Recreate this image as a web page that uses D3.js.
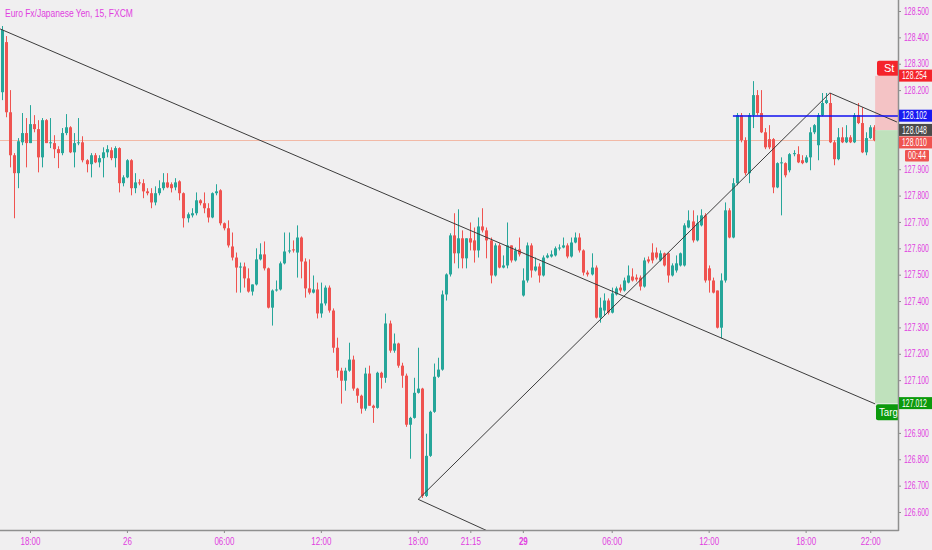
<!DOCTYPE html>
<html lang="en">
<head>
<meta charset="UTF-8" />
<title>Euro Fx/Japanese Yen, 15, FXCM</title>
<script src="https://d3js.org/d3.v7.min.js"></script>
<style>
  body { margin: 0; background: #f0eff0; }
  svg { display: block; font-family: "Liberation Sans", Arial, sans-serif; }
</style>
</head>
<body>
<svg id="chart" width="932" height="550"></svg>
<script>
// 15 minute candles, index 0 = first visible bar
const opens = [
  128.192,128.382,128.116,127.953,127.885,128.002,128.037,127.999,128.071,128.052,
  127.945,128.086,127.999,127.999,127.976,127.961,128.037,128.059,127.964,127.999,
  128.002,127.934,127.919,127.953,127.926,127.942,127.964,127.972,127.942,127.980,
  127.847,127.869,127.934,127.828,127.850,127.847,127.816,127.809,127.774,127.809,
  127.828,127.850,127.843,127.831,127.854,127.809,127.714,127.725,127.733,127.782,
  127.771,127.752,127.717,127.809,127.820,127.695,127.676,127.607,127.565,127.527,
  127.531,127.486,127.436,127.463,127.558,127.577,127.524,127.375,127.440,127.444,
  127.543,127.588,127.596,127.584,127.641,127.550,127.448,127.432,127.444,127.353,
  127.391,127.451,127.364,127.223,127.136,127.098,127.136,127.178,127.068,127.041,
  126.992,127.125,127.003,126.995,127.128,127.109,127.315,127.212,127.239,127.155,
  127.117,126.931,126.957,127.052,127.068,126.661,126.813,126.980,127.113,127.140,
  127.425,127.501,127.649,127.581,127.638,127.562,127.638,127.630,127.592,127.683,
  127.668,127.630,127.497,127.611,127.527,127.535,127.611,127.554,127.596,127.421,
  127.478,127.611,127.516,127.531,127.497,127.565,127.569,127.573,127.600,127.603,
  127.611,127.569,127.622,127.641,127.592,127.508,127.501,127.527,127.337,127.364,
  127.402,127.356,127.425,127.451,127.440,127.470,127.493,127.489,127.489,127.455,
  127.558,127.584,127.584,127.554,127.581,127.581,127.497,127.516,127.535,127.535,
  127.679,127.702,127.630,127.687,127.725,127.524,127.478,127.440,127.299,127.478,
  127.744,127.641,127.847,128.105,128.010,127.885,128.105,128.181,128.113,128.040,
  128.014,128.014,127.831,127.923,127.923,127.896,127.957,127.957,127.934,127.926,
  127.945,128.040,127.991,128.105,128.151,128.151,128.002,127.938,128.021,128.002,
  128.021,128.002,128.105,128.075,127.964,128.018,128.059
];
const highs = [
  128.443,128.405,128.200,127.961,128.018,128.113,128.094,128.143,128.105,128.086,
  128.094,128.090,128.094,128.029,127.987,128.056,128.109,128.063,128.037,128.094,
  128.025,127.938,127.961,127.961,127.953,127.983,127.991,127.983,127.987,127.983,
  127.877,127.938,127.938,127.885,127.862,127.862,127.828,127.828,127.835,127.858,
  127.885,127.885,127.850,127.866,127.858,127.812,127.736,127.752,127.812,127.786,
  127.812,127.771,127.812,127.843,127.824,127.698,127.706,127.660,127.584,127.546,
  127.546,127.524,127.463,127.600,127.619,127.626,127.527,127.444,127.478,127.550,
  127.660,127.660,127.630,127.687,127.645,127.562,127.558,127.497,127.470,127.470,
  127.459,127.459,127.372,127.261,127.147,127.147,127.242,127.193,127.071,127.045,
  127.147,127.155,127.007,127.132,127.132,127.353,127.326,127.277,127.242,127.166,
  127.125,126.961,127.109,127.223,127.071,126.897,126.984,127.163,127.185,127.440,
  127.505,127.657,127.733,127.748,127.668,127.638,127.698,127.679,127.717,127.752,
  127.679,127.641,127.619,127.619,127.573,127.698,127.611,127.603,127.641,127.524,
  127.622,127.619,127.565,127.543,127.573,127.581,127.592,127.607,127.615,127.641,
  127.619,127.641,127.660,127.657,127.596,127.516,127.581,127.535,127.413,127.429,
  127.410,127.451,127.455,127.463,127.489,127.535,127.524,127.501,127.497,127.565,
  127.569,127.619,127.603,127.592,127.584,127.584,127.543,127.573,127.584,127.695,
  127.744,127.744,127.725,127.748,127.733,127.535,127.489,127.440,127.505,127.774,
  127.752,127.866,128.113,128.113,128.021,128.113,128.234,128.200,128.200,128.056,
  128.067,128.018,127.926,127.945,127.926,127.961,127.972,127.987,127.953,127.953,
  128.059,128.071,128.113,128.189,128.189,128.189,128.010,128.056,128.059,128.067,
  128.029,128.113,128.151,128.135,128.040,128.067,128.067
];
const lows = [
  128.162,128.097,127.907,127.714,127.828,127.991,127.907,127.999,128.040,127.888,
  127.907,127.999,127.980,127.942,127.904,127.953,128.029,127.961,127.907,127.991,
  127.926,127.888,127.869,127.923,127.907,127.869,127.945,127.934,127.907,127.812,
  127.835,127.866,127.801,127.809,127.839,127.790,127.801,127.752,127.763,127.801,
  127.820,127.828,127.812,127.820,127.782,127.679,127.698,127.717,127.725,127.763,
  127.733,127.698,127.714,127.801,127.687,127.668,127.603,127.554,127.432,127.432,
  127.451,127.432,127.421,127.459,127.554,127.516,127.372,127.307,127.436,127.440,
  127.539,127.581,127.584,127.489,127.486,127.413,127.425,127.429,127.334,127.337,
  127.383,127.356,127.204,127.109,127.011,127.060,127.132,127.060,127.014,126.973,
  126.984,127.003,126.938,126.992,127.068,127.090,127.204,127.204,127.147,127.071,
  126.923,126.802,126.954,127.049,126.653,126.657,126.809,126.976,127.109,127.136,
  127.402,127.493,127.543,127.524,127.524,127.524,127.592,127.546,127.565,127.660,
  127.562,127.467,127.493,127.524,127.524,127.524,127.546,127.550,127.569,127.417,
  127.470,127.489,127.512,127.470,127.493,127.562,127.565,127.569,127.592,127.600,
  127.562,127.565,127.619,127.584,127.497,127.493,127.497,127.334,127.318,127.345,
  127.349,127.353,127.421,127.432,127.436,127.467,127.474,127.474,127.440,127.451,
  127.543,127.543,127.558,127.550,127.531,127.470,127.493,127.508,127.531,127.531,
  127.676,127.622,127.626,127.683,127.470,127.432,127.429,127.296,127.258,127.470,
  127.638,127.638,127.839,128.002,127.877,127.847,128.056,128.105,128.037,127.976,
  127.976,127.809,127.828,127.725,127.869,127.888,127.949,127.923,127.919,127.923,
  127.896,128.033,127.934,128.101,128.147,127.999,127.915,127.934,127.999,127.999,
  127.999,127.999,128.071,127.961,127.953,128.014,128.006
];
const closes = [
  128.428,128.116,127.953,127.885,128.006,128.037,127.999,128.071,128.052,127.945,
  128.086,127.999,128.002,127.976,127.961,128.037,128.059,127.964,127.999,128.002,
  127.934,127.919,127.953,127.926,127.942,127.964,127.976,127.942,127.980,127.847,
  127.869,127.934,127.828,127.850,127.847,127.816,127.809,127.774,127.809,127.828,
  127.850,127.831,127.828,127.850,127.809,127.714,127.729,127.733,127.782,127.771,
  127.752,127.717,127.809,127.816,127.695,127.676,127.611,127.565,127.527,127.531,
  127.486,127.436,127.463,127.558,127.577,127.524,127.375,127.440,127.444,127.543,
  127.588,127.592,127.592,127.641,127.550,127.448,127.432,127.444,127.353,127.391,
  127.451,127.364,127.223,127.136,127.098,127.136,127.178,127.068,127.041,126.992,
  127.125,127.003,126.995,127.128,127.109,127.315,127.212,127.239,127.155,127.117,
  126.931,126.957,127.052,127.068,126.661,126.813,126.980,127.113,127.140,127.425,
  127.501,127.649,127.581,127.638,127.562,127.638,127.622,127.592,127.683,127.668,
  127.630,127.497,127.611,127.527,127.535,127.611,127.554,127.592,127.577,127.478,
  127.611,127.516,127.531,127.497,127.565,127.573,127.577,127.600,127.603,127.611,
  127.569,127.622,127.641,127.592,127.508,127.501,127.527,127.337,127.375,127.402,
  127.356,127.429,127.448,127.440,127.478,127.497,127.478,127.482,127.455,127.554,
  127.550,127.554,127.565,127.581,127.535,127.497,127.535,127.543,127.581,127.687,
  127.706,127.630,127.695,127.725,127.478,127.478,127.432,127.299,127.478,127.744,
  127.641,127.847,128.105,128.010,127.885,128.105,128.181,128.113,128.040,127.983,
  127.983,127.831,127.923,127.926,127.877,127.957,127.961,127.926,127.923,127.945,
  128.040,128.067,128.105,128.151,128.162,128.002,127.938,128.021,128.002,128.021,
  128.002,128.105,128.075,127.964,128.018,128.059,128.010
];

// time axis labels, at bar index
const tickIdx  = [7, 31, 55, 79, 103, 116, 129, 151, 175, 199, 215];
const tickText = ["18:00", "26", "06:00", "12:00", "18:00", "21:15", "29", "06:00", "12:00", "18:00", "22:00"];

// price axis labels
const priceTicks = [126.6, 126.7, 126.8, 126.9, 127.0, 127.1, 127.2, 127.3, 127.4,
                    127.5, 127.6, 127.7, 127.8, 127.9, 128.0, 128.1, 128.2, 128.3, 128.4, 128.5];

// drawings, points as [bar index, price]
const trendLines = [
  [[-0.4, 128.432], [216.2, 127.010]],
  [[103.1, 126.648], [122, 126.516]],
  [[103.1, 126.648], [205.0, 128.189]],
  [[205.0, 128.189], [221.6, 128.079]]
];
const hLevel = { start: 181, price: 128.102 };
const entryPrice = 128.048;
const stopPrice = 128.254;
const targetPrice = 127.012;
const positionStart = 216.2;
const countdown = "00:44";

const W = 932, H = 550;
const plotRight = 898, plotBottom = 530;
const magenta = "#e03ee0";
const upColor = "#26a69a", downColor = "#ef5350";

// squeeze text horizontally around its x, the chart font is narrower than Liberation Sans
function narrow(sel, k) {
  sel.each(function () {
    const t = d3.select(this);
    const x0 = +t.attr("x") || 0;
    t.attr("transform", `translate(${x0 * (1 - k)},0) scale(${k},1)`);
  });
}

const svg = d3.select("#chart");
svg.append("rect").attr("width", W).attr("height", H).attr("fill", "#f0eff0");

const x = d3.scaleLinear().domain([0, 216]).range([1.7, 874.3]);
const y = d3.scaleLinear().domain([126.6, 128.5]).range([512, 11]);

svg.append("clipPath").attr("id", "plotClip")
  .append("rect").attr("x", 0).attr("y", 0).attr("width", plotRight).attr("height", plotBottom);

const plot = svg.append("g").attr("clip-path", "url(#plotClip)");

const lastClose = closes[closes.length - 1];

// last price line
plot.append("line")
  .attr("x1", 0).attr("x2", plotRight)
  .attr("y1", Math.round(y(lastClose)) + 0.5).attr("y2", Math.round(y(lastClose)) + 0.5)
  .attr("stroke", "#f2b9a6").attr("stroke-width", 1);

// candles
const candles = opens.map((o, i) => ({ i, o, h: highs[i], l: lows[i], c: closes[i] }));
const cg = plot.append("g");
cg.selectAll("line.wick").data(candles).join("line")
  .attr("class", "wick")
  .attr("x1", d => Math.round(x(d.i)) + 0.5).attr("x2", d => Math.round(x(d.i)) + 0.5)
  .attr("y1", d => y(d.h)).attr("y2", d => y(d.l))
  .attr("stroke", d => d.c >= d.o ? upColor : downColor).attr("stroke-width", 1);
cg.selectAll("rect.body").data(candles).join("rect")
  .attr("class", "body")
  .attr("x", d => Math.round(x(d.i)) - 1)
  .attr("width", 3)
  .attr("y", d => y(Math.max(d.o, d.c)))
  .attr("height", d => Math.max(1, Math.abs(y(d.o) - y(d.c))))
  .attr("fill", d => d.c >= d.o ? upColor : downColor);

// short position box
plot.append("rect")
  .attr("x", x(positionStart)).attr("width", plotRight - x(positionStart))
  .attr("y", y(stopPrice)).attr("height", y(entryPrice) - y(stopPrice))
  .attr("fill", "#f4c3c5");
plot.append("rect")
  .attr("x", x(positionStart)).attr("width", plotRight - x(positionStart))
  .attr("y", y(entryPrice)).attr("height", y(targetPrice) - y(entryPrice))
  .attr("fill", "#bfe1bc");

// trend lines
const line = d3.line().x(d => x(d[0])).y(d => y(d[1]));
plot.selectAll("path.trend").data(trendLines).join("path")
  .attr("class", "trend")
  .attr("d", line)
  .attr("fill", "none").attr("stroke", "#3c3c3c").attr("stroke-width", 1);

// horizontal level
plot.append("line")
  .attr("x1", x(hLevel.start)).attr("x2", plotRight)
  .attr("y1", y(hLevel.price)).attr("y2", y(hLevel.price))
  .attr("stroke", "#1010f0").attr("stroke-width", 1.6);

// position labels (cut by the price scale)
const stopY = y(stopPrice), targY = y(targetPrice);
plot.append("rect").attr("x", 877).attr("y", stopY - 15).attr("width", 40).attr("height", 15)
  .attr("rx", 2).attr("fill", "#f5232b");
plot.append("text").attr("x", 884).attr("y", stopY - 4).attr("font-size", 11)
  .attr("fill", "#fff").text("St");
plot.append("rect").attr("x", 876).attr("y", targY + 1).attr("width", 40).attr("height", 16)
  .attr("rx", 2).attr("fill", "#0c9a0c");
plot.append("text").attr("x", 879).attr("y", targY + 13).attr("font-size", 11)
  .attr("fill", "#fff").text("Targ").call(narrow, 0.88);

// price scale labels, pushed apart when they overlap
const axisLabels = [
  { price: stopPrice, bg: "#f5232b" },
  { price: hLevel.price, bg: "#1a1af2" },
  { price: entryPrice, bg: "#4b4b4b" },
  { price: lastClose, bg: "#ef5350", last: true },
  { price: targetPrice, bg: "#0c9a0c" }
].map(d => ({ ...d, cy: y(d.price) })).sort((a, b) => a.cy - b.cy);
const labelH = 12.5;
axisLabels.forEach((d, i) => {
  if (i > 0 && d.cy < axisLabels[i - 1].cy + labelH) d.cy = axisLabels[i - 1].cy + labelH;
});

// axes; ticks hidden under a label box are dropped
const visibleTicks = priceTicks.filter(p => axisLabels.every(d => Math.abs(y(p) - d.cy) > 9));
const yAxis = d3.axisRight(y).tickValues(visibleTicks).tickFormat(d3.format(".3f"))
  .tickSize(3).tickPadding(3);
const yg = svg.append("g").attr("transform", `translate(${plotRight},0)`).call(yAxis);
yg.select(".domain").remove();
yg.selectAll(".tick line").attr("stroke", "#8a8a8a");
yg.selectAll(".tick text").attr("fill", magenta).attr("font-size", 10)
  .attr("font-family", "Liberation Sans, Arial, sans-serif").call(narrow, 0.69);

const xAxis = d3.axisBottom(x).tickValues(tickIdx)
  .tickFormat(d => tickText[tickIdx.indexOf(d)]).tickSize(3).tickPadding(5);
const xg = svg.append("g").attr("transform", `translate(0,${plotBottom})`).call(xAxis);
xg.select(".domain").remove();
xg.selectAll(".tick line").attr("stroke", "#8a8a8a");
xg.selectAll(".tick text").attr("fill", magenta).attr("font-size", 10)
  .attr("font-family", "Liberation Sans, Arial, sans-serif")
  .attr("font-weight", (d, i) => tickText[i] === "29" ? "bold" : null)
  .call(narrow, 0.8);

svg.append("line").attr("x1", 0).attr("x2", plotRight + 0.75)
  .attr("y1", plotBottom + 0.5).attr("y2", plotBottom + 0.5)
  .attr("stroke", "#8f8f8f").attr("stroke-width", 1.5);
svg.append("line").attr("x1", plotRight + 0.5).attr("x2", plotRight + 0.5)
  .attr("y1", 0).attr("y2", plotBottom + 1)
  .attr("stroke", "#8f8f8f").attr("stroke-width", 1.5);

const lg = svg.append("g");
axisLabels.forEach(d => {
  lg.append("rect").attr("x", plotRight + 1).attr("y", d.cy - labelH / 2)
    .attr("width", W - plotRight - 1).attr("height", labelH - 0.5).attr("fill", d.bg);
  lg.append("text").attr("x", plotRight + 4).attr("y", d.cy + 3.5)
    .attr("font-size", 10).attr("fill", "#fff").text(d.price.toFixed(3)).call(narrow, 0.69);
  if (d.last) {
    lg.append("rect").attr("x", plotRight + 7).attr("y", d.cy + labelH / 2 + 1)
      .attr("width", 24).attr("height", labelH - 1).attr("rx", 1).attr("fill", d.bg);
    lg.append("text").attr("x", plotRight + 10).attr("y", d.cy + labelH + 4)
      .attr("font-size", 10).attr("fill", "#fff").text(countdown).call(narrow, 0.72);
  }
});

// title
svg.append("text").attr("x", 5).attr("y", 17)
  .attr("font-size", 11).attr("fill", magenta)
  .text("Euro Fx/Japanese Yen, 15, FXCM").call(narrow, 0.77);
</script>
</body>
</html>
